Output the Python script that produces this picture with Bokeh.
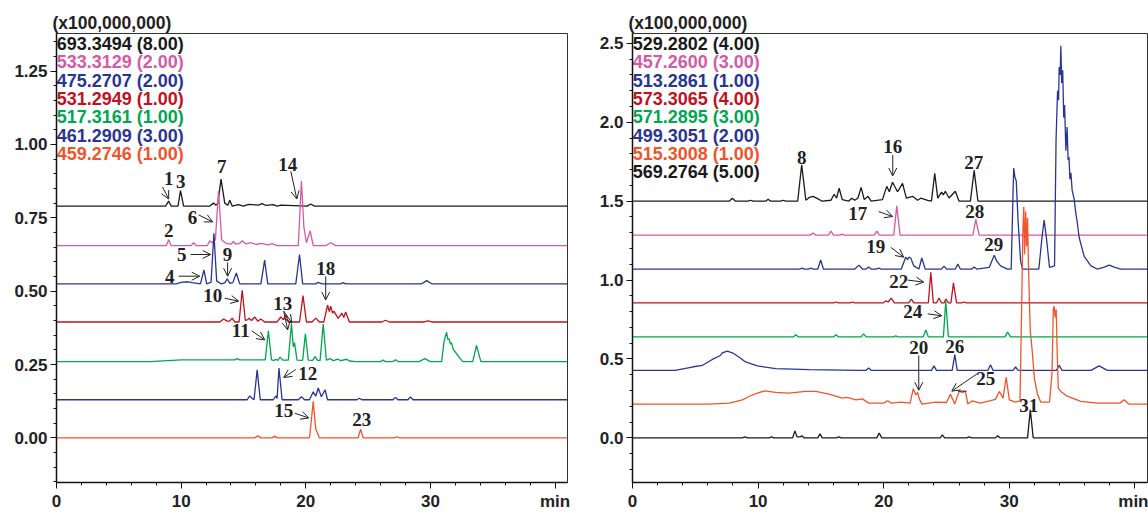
from bokeh.plotting import figure
from bokeh.layouts import row
from bokeh.models import (Arrow, OpenHead, ColumnDataSource,
                          SingleIntervalTicker, PrintfTickFormatter)
from bokeh.core.properties import value
from bokeh.embed import file_html
from bokeh.resources import INLINE

# ---------------- colours ----------------
BLACK = "#1a1a1a"
PINK = "#D45AA8"
BLUE = "#2A3593"
RED = "#C0121E"
GREEN = "#00A650"
ORANGE = "#F2542A"

# ---------------- LEFT PANEL DATA ----------------
left_names = ["693.3494 (8.00)", "533.3129 (2.00)", "475.2707 (2.00)", "531.2949 (1.00)",
              "517.3161 (1.00)", "461.2909 (3.00)", "459.2746 (1.00)"]
left_colors = [BLACK, PINK, BLUE, RED, GREEN, BLUE, ORANGE]
left_offsets = [0.79, 0.655, 0.525, 0.395, 0.26, 0.13, 0.0]

L1_t = [0, 8.75, 9.0, 9.2, 9.75, 9.95, 10.2, 12.3, 12.6, 12.8, 12.95, 13.2, 13.5, 13.75, 13.9, 14.1,
        14.6, 15.0, 15.4, 16.2, 16.5, 16.8, 17.4, 17.7, 18.0, 20.1, 20.4, 20.7, 41]
L1_h = [0, 0, .017, 0, 0, .053, 0, 0, .01, .003, .01, .092, .01, .003, .02, 0,
        .005, 0, .006, .003, .008, .002, .005, 0, .003, 0, .007, 0, 0]

L2_t = [0, 8.8, 9.0, 9.2, 10.8, 11.0, 11.2, 12.1, 12.3, 12.5, 12.75, 13.0, 13.25, 13.6, 14.0, 14.2,
        14.4, 14.7, 14.9, 15.2, 15.6, 16.0, 16.4, 17.0, 17.3, 17.7, 19.4, 19.65, 19.85, 20.05, 20.35,
        20.6, 21.6, 22.0, 22.4, 41]
L2_h = [0, 0, .02, 0, 0, .01, 0, 0, .017, .01, .02, .187, .02, .008, .005, .014,
        .005, .008, .017, .006, .01, .004, .008, .003, .007, 0, 0, .22, .063, .01, .05,
        0, 0, .01, 0, 0]

L3_t = [0, 9.6, 10.0, 10.5, 10.9, 11.55, 11.83, 12.05, 12.4, 12.63, 12.85, 13.2, 13.5, 13.7, 13.9,
        14.15, 14.43, 14.7, 16.4, 16.7, 16.95, 19.2, 19.5, 19.75, 20.8, 21.0, 21.3, 22.8, 23.0, 23.2,
        29.3, 29.7, 30.1, 41]
L3_h = [0, 0, .005, .007, .004, 0, .047, 0, .005, .172, .01, 0, .003, .017, .002,
        .004, .037, 0, 0, .081, 0, 0, .1, 0, 0, .005, 0, 0, .004, 0,
        0, .011, 0, 0]

L4_t = [0, 13.1, 13.4, 13.7, 13.9, 14.1, 14.3, 14.65, 14.9, 15.15, 15.35, 15.45, 15.65, 15.9, 16.15,
        16.4, 16.7, 17.7, 18.0, 18.2, 18.4, 18.6, 19.5, 19.78, 20.05, 20.5, 20.8, 21.1, 21.45, 21.75,
        21.9, 22.0, 22.15, 22.25, 22.6, 22.9, 23.05, 23.2, 23.5, 26.1, 26.4, 26.7, 29.5, 29.8, 30.1, 41]
L4_h = [0, 0, .01, .003, .003, .013, 0, 0, .108, .005, .008, .013, .005, .017, .003,
        .01, 0, 0, .017, .008, .024, 0, 0, .09, 0, 0, .013, 0, 0, .057,
        .035, .054, .03, .037, .012, .03, .015, .034, 0, 0, .006, 0, 0, .004, 0, 0]

L5_t = [0, 7.5, 10, 14.3, 14.5, 14.7, 16.6, 16.75, 17.0, 17.25, 17.45, 17.6, 17.75, 17.95, 18.15,
        18.6, 18.85, 19.0, 19.1, 19.3, 19.75, 19.97, 20.2, 20.55, 20.75, 20.95, 21.15, 21.4, 21.65,
        22.0, 22.2, 22.6, 22.8, 23.3, 23.5, 24.0, 26.0, 26.2, 26.4, 27.0, 27.2, 27.4, 29.1, 29.55,
        30.0, 30.9, 31.1, 31.2, 31.3, 31.4, 31.5, 31.6, 31.7, 31.85, 32.05, 32.3, 32.6, 33.4, 33.7,
        34.05, 41]
L5_h = [0, 0, .006, .006, .01, .006, .006, .006, .105, .006, .004, .008, .004, .015, .005,
        .005, .13, .05, .064, .005, .004, .095, .005, .004, .017, .004, .004, .128, .005,
        .01, .003, .008, .003, .008, .002, 0, 0, .005, 0, 0, .006, 0, 0, .01,
        0, 0, .07, .085, .1, .075, .078, .06, .064, .04, .03, .015, 0, 0, .055,
        0, 0]

L6_t = [0, 15.3, 15.5, 15.7, 15.85, 16.1, 16.35, 17.4, 17.6, 17.7, 17.85, 18.1, 19.4, 19.65, 19.9,
        20.3, 20.6, 20.8, 21.0, 21.25, 21.55, 21.75, 24.1, 24.3, 24.5, 27.0, 27.2, 27.4, 28.2, 28.4,
        28.6, 41]
L6_h = [0, 0, .013, .004, 0, .102, 0, 0, .013, .004, .108, 0, 0, .01, 0,
        0, .027, .012, .04, .01, .034, 0, 0, .005, 0, 0, .008, 0, 0, .01,
        0, 0]

L7_t = [0, 15.9, 16.15, 16.4, 17.3, 17.5, 17.7, 20.3, 20.45, 20.6, 20.8, 21.1, 24.2, 24.4, 24.6,
        27.1, 27.3, 27.5, 41]
L7_h = [0, 0, .007, 0, 0, .006, 0, 0, .06, .125, .03, 0, 0, .03, 0,
        0, .004, 0, 0]

left_t = [L1_t, L2_t, L3_t, L4_t, L5_t, L6_t, L7_t]
left_h = [L1_h, L2_h, L3_h, L4_h, L5_h, L6_h, L7_h]

# peak numbers (left)
left_lab_text = ["1", "3", "7", "14", "6", "2", "5", "9", "4", "10", "13", "11", "12", "15", "18", "23"]
left_lab_x = [9.0, 9.96, 13.25, 18.55, 10.92, 9.0, 10.04, 13.73, 9.08, 12.53, 18.15, 14.78, 20.16, 18.23, 21.6, 24.5]
left_lab_y = [0.885, 0.872, 0.926, 0.932, 0.75, 0.706, 0.625, 0.625, 0.551, 0.486, 0.459, 0.365, 0.22, 0.095, 0.578, 0.064]
left_arr_x0 = [8.51, 18.8, 11.4, 10.76, 13.73, 9.8, 13.49, 18.23, 18.23, 15.66, 19.2, 19.12, 21.6]
left_arr_y0 = [0.855, 0.909, 0.76, 0.625, 0.598, 0.551, 0.476, 0.432, 0.432, 0.365, 0.233, 0.084, 0.551]
left_arr_x1 = [9.0, 19.28, 12.53, 12.37, 13.73, 11.49, 14.62, 18.55, 18.88, 16.71, 18.23, 20.24, 21.6]
left_arr_y1 = [0.814, 0.814, 0.736, 0.625, 0.551, 0.551, 0.466, 0.368, 0.392, 0.334, 0.206, 0.068, 0.47]

# ---------------- RIGHT PANEL DATA ----------------
right_names = ["529.2802 (4.00)", "457.2600 (3.00)", "513.2861 (1.00)", "573.3065 (4.00)",
               "571.2895 (3.00)", "499.3051 (2.00)", "515.3008 (1.00)", "569.2764 (5.00)"]
right_colors = [BLACK, PINK, BLUE, RED, GREEN, BLUE, ORANGE, BLACK]
right_offsets = [1.5, 1.285, 1.07, 0.855, 0.64, 0.428, 0.214, 0.0]

R1_t = [0, 7.7, 7.95, 8.2, 9.2, 9.4, 9.6, 10.6, 10.8, 11.0, 11.8, 12.0, 12.2, 13.15, 13.47, 13.8,
        14.1, 14.37, 14.7, 15.1, 15.8, 16.05, 16.25, 16.45, 16.7, 17.2, 17.45, 17.7, 17.95, 18.2,
        18.45, 18.75, 19.0, 19.9, 20.24, 20.45, 20.7, 21.1, 21.5, 21.8, 22.3, 22.7, 22.95, 23.2,
        23.5, 23.8, 24.06, 24.3, 24.6, 24.75, 24.9, 25.2, 25.7, 26.0, 26.9, 27.2, 27.5, 28.0, 41]
R1_h = [0, 0, .019, 0, 0, .006, 0, 0, .013, 0, 0, .006, 0, 0, .23, .006,
        .025, .031, .018, 0, .006, .044, .02, .082, .01, 0, .019, .006, .02, .088,
        .01, .031, 0, .01, .094, .06, .12, .06, .113, .02, .031, .006, .019, .013,
        .006, 0, .176, .02, .057, .04, .063, .02, .063, 0, 0, .195, 0, 0, 0]

R2_t = [0, 14.15, 14.37, 14.6, 15.6, 15.8, 16.0, 16.5, 16.7, 16.9, 19.25, 19.45, 19.65, 20.8, 21.04,
        21.3, 27.1, 27.33, 27.6, 41]
R2_h = [0, 0, .013, 0, 0, .025, 0, 0, .006, 0, 0, .025, 0, 0, .185,
        0, 0, .1, 0, 0]

R3_t = [0, 13.3, 13.5, 13.7, 14.0, 14.2, 14.4, 14.75, 14.98, 15.2, 17.7, 18.03, 18.3, 18.6, 18.8,
        19.0, 19.4, 19.6, 19.8, 21.4, 21.75, 21.9, 22.0, 22.15, 22.4, 22.8, 23.03, 23.3, 24.6, 24.8,
        25.0, 25.7, 25.9, 26.1, 27.0, 27.2, 27.4, 28.4, 28.6, 28.8, 29.0, 29.3, 29.85, 30.15, 30.3,
        30.35, 30.45, 30.55, 30.7, 30.9, 31.05, 32.35, 32.6, 32.77, 32.95, 33.2, 33.6, 33.72, 33.84,
        33.92, 33.97, 34.05, 34.1, 34.17, 34.25, 34.33, 34.4, 34.5, 34.6, 34.68, 34.75, 34.82, 34.9,
        35.0, 35.17, 35.3, 35.4, 35.56, 35.96, 36.5, 37.0, 37.5, 37.95, 38.4, 38.9, 41]
R3_h = [0, 0, .006, 0, 0, .006, 0, 0, .057, 0, 0, .025, 0, 0, .013,
        0, 0, .006, 0, 0, .075, .06, .075, .07, .02, 0, .07, 0, 0, .019,
        0, 0, .031, 0, 0, .013, 0, .01, .05, .088, .05, .02, 0, 0, .5,
        .64, .58, .56, .3, .05, 0, 0, .2, .31, .2, .01, .02, .82, 1.13,
        1.07, 1.28, 1.23, 1.415, 1.18, 1.26, .96, 1.04, .75, .9, .69, .71, .57, .61,
        .5, .44, .35, .3, .2, .08, .02, 0, .01, .025, .01, 0, 0]

R4_t = [0, 16.0, 16.2, 16.4, 17.3, 17.5, 17.7, 19.95, 20.16, 20.35, 20.6, 20.85, 22.0, 22.2, 22.4,
        23.55, 23.75, 23.95, 24.2, 24.4, 24.6, 24.8, 24.95, 25.15, 25.35, 25.55, 25.8, 26.2, 26.4,
        26.6, 41]
R4_h = [0, 0, .006, 0, 0, .006, 0, 0, .013, .006, .031, 0, 0, .025, 0,
        0, .195, 0, 0, .031, 0, 0, .025, 0, 0, .127, 0, 0, .006,
        0, 0]

R5_t = [0, 12.8, 13.0, 13.2, 16.0, 16.2, 16.4, 18.2, 18.4, 18.6, 20.8, 20.96, 21.1, 23.15, 23.35,
        23.55, 24.75, 24.94, 25.15, 29.65, 29.86, 30.1, 41]
R5_h = [0, 0, .013, 0, 0, .013, 0, 0, .019, 0, 0, .006, 0, 0, .044,
        0, 0, .225, 0, 0, .03, 0, 0]

R6_t = [0, 3.4, 4.75, 5.55, 6.35, 7.0, 7.15, 7.55, 7.95, 8.47, 9.0, 9.94, 11.4, 14.05, 18.0, 18.6,
        18.8, 19.0, 23.8, 24.0, 24.2, 25.45, 25.66, 25.85, 28.3, 28.5, 28.7, 30.3, 30.5, 30.7, 33.75,
        33.97, 34.2, 36.5, 37.15, 37.8, 41]
R6_h = [0, 0, .021, .031, .069, .094, .111, .122, .111, .084, .053, .028, .011, .004, 0, 0,
        .015, 0, 0, .028, 0, 0, .1, 0, 0, .036, 0, 0, .021, 0, 0,
        .031, 0, 0, .028, 0, 0]

R7_t = [0, 6.1, 7.7, 8.75, 9.27, 9.94, 10.5, 11.4, 12.45, 13.8, 14.6, 15.65, 16.7, 17.1, 17.8, 18.3,
        18.8, 20.0, 20.3, 20.6, 21.35, 22.1, 22.35, 22.55, 22.7, 22.85, 23.05, 24.15, 25.0, 25.3,
        25.5, 25.65, 26.0, 26.27, 26.5, 26.7, 27.05, 27.7, 28.9, 29.2, 29.5, 29.75, 30.0, 30.5,
        30.85, 31.0, 31.08, 31.15, 31.22, 31.3, 31.38, 31.45, 31.52, 31.6, 31.67, 31.75, 31.85,
        32.0, 32.25, 32.5, 33.2, 33.4, 33.5, 33.57, 33.65, 33.73, 33.82, 33.9, 34.1, 34.6, 35.7,
        37.0, 38.8, 39.15, 39.5, 41]
R7_h = [0, 0, .006, .027, .048, .069, .084, .074, .069, .08, .08, .063, .038, .042, .027, .033,
        .006, .006, .021, .006, .013, .006, .097, .059, .074, .03, 0, .013, .01, .063,
        .03, 0, .08, .074, .08, 0, .021, .006, .03, .08, .038, .17, .027, .013,
        .02, .7, 1.1, 1.25, .95, 1.22, 1.0, 1.18, .9, .65, .46, .4, .31,
        .16, .06, .013, .013, .2, .6, .62, .55, .6, .3, .1, .08, .05, .017,
        .006, .006, .027, 0, 0]

R8_t = [0, 8.75, 8.95, 9.15, 10.9, 11.07, 11.25, 12.75, 12.93, 13.1, 13.35, 13.5, 13.65, 14.75,
        14.93, 15.1, 16.25, 16.43, 16.6, 19.45, 19.63, 19.85, 24.5, 24.67, 24.85, 26.6, 26.8, 27.0,
        28.9, 29.06, 29.25, 31.45, 31.67, 31.9, 41]
R8_h = [0, 0, .006, 0, 0, .006, 0, 0, .044, .006, .006, .013, 0, 0,
        .025, 0, 0, .006, 0, 0, .031, 0, 0, .019, 0, 0, .006, 0,
        0, .013, 0, 0, .178, 0, 0]

right_t = [R1_t, R2_t, R3_t, R4_t, R5_t, R6_t, R7_t, R8_t]
right_h = [R1_h, R2_h, R3_h, R4_h, R5_h, R6_h, R7_h, R8_h]

right_lab_text = ["8", "16", "27", "17", "28", "19", "29", "22", "24", "20", "26", "25", "31"]
right_lab_x = [13.47, 20.72, 27.17, 17.93, 27.25, 19.36, 28.76, 21.2, 22.31, 22.79, 25.66, 28.13, 31.55]
right_lab_y = [1.78, 1.849, 1.748, 1.421, 1.434, 1.214, 1.226, 0.994, 0.799, 0.572, 0.579, 0.377, 0.208]
right_arr_x0 = [20.72, 19.6, 20.56, 21.91, 23.5, 22.79, 27.49]
right_arr_y0 = [1.792, 1.434, 1.208, 1.0, 0.786, 0.522, 0.409]
right_arr_x1 = [20.72, 20.72, 21.59, 23.19, 24.62, 22.79, 25.42]
right_arr_y1 = [1.66, 1.403, 1.145, 0.987, 0.774, 0.302, 0.296]
right_seg = ([25.9], [0.296], [26.6], [0.296])


def make_panel(names, colors, offsets, ts, hs, ymin, ymax, ytick, yfmt, min_left, min_right, width,
               lab_text, lab_x, lab_y, ax0, ay0, ax1, ay1):
    p = figure(width=width, height=513, x_range=(0, 41), y_range=(ymin, ymax),
               output_backend="svg", toolbar_location=None,
               min_border_left=min_left, min_border_right=min_right,
               min_border_top=33, min_border_bottom=27,
               title="(x100,000,000)", title_location="above")
    p.title.align = "left"
    p.title.text_font = "Liberation Sans"
    p.title.text_font_style = "bold"
    p.title.text_font_size = "17.5px"
    p.title.text_color = "#222222"
    p.title.standoff = 1
    p.title.offset = -4
    p.grid.visible = False
    p.outline_line_color = "#333333"
    p.outline_line_width = 1
    p.background_fill_color = "white"
    p.border_fill_color = "white"

    p.xaxis.ticker = SingleIntervalTicker(interval=10, num_minor_ticks=5)
    p.yaxis.ticker = SingleIntervalTicker(interval=ytick, num_minor_ticks=5)
    p.yaxis.formatter = PrintfTickFormatter(format=yfmt)
    p.xaxis.major_label_overrides = {40: "min"}
    for ax in (p.xaxis, p.yaxis):
        ax.axis_line_width = 1.5
        ax.axis_line_color = "#111111"
        ax.major_tick_line_color = "#111111"
        ax.minor_tick_line_color = "#111111"
        ax.major_tick_out = 6
        ax.major_tick_in = 0
        ax.minor_tick_out = 3
        ax.minor_tick_in = 0
        ax.major_label_text_font = "Liberation Sans"
        ax.major_label_text_font_style = "bold"
        ax.major_label_text_font_size = "17px"
        ax.major_label_text_color = "#222222"
        ax.major_label_standoff = 3

    for t, h, off, c in zip(ts, hs, offsets, colors):
        p.line(x=t, y=[off + v for v in h], line_color=c, line_width=1.3)

    # legend block (top-left inside frame)
    dpp = (ymax - ymin) / 453.0
    ys = [ymax - (10.5 + 18.5 * i) * dpp for i in range(len(names))]
    p.text(x=[0.02] * len(names), y=ys, text=names, text_color=colors,
           text_font=value("Liberation Sans"), text_font_style="bold",
           text_font_size="18px", text_align="left", text_baseline="middle")

    # peak numbers
    p.text(x=lab_x, y=lab_y, text=lab_text, text_color="#222222",
           text_font=value("Liberation Serif"), text_font_style="bold",
           text_font_size="19px", text_align="center", text_baseline="middle")

    src = ColumnDataSource(dict(x0=ax0, y0=ay0, x1=ax1, y1=ay1))
    p.add_layout(Arrow(end=OpenHead(size=8, line_width=1, line_color="#222222"),
                       x_start="x0", y_start="y0", x_end="x1", y_end="y1",
                       line_width=1, line_color="#222222", source=src))
    return p


p1 = make_panel(left_names, left_colors, left_offsets, left_t, left_h, -0.152, 1.378, 0.25, "%.2f",
                56, 8, 575, left_lab_text, left_lab_x, left_lab_y,
                left_arr_x0, left_arr_y0, left_arr_x1, left_arr_y1)
p2 = make_panel(right_names, right_colors, right_offsets, right_t, right_h, -0.283, 2.563, 0.5, "%.1f",
                57, 1, 573, right_lab_text, right_lab_x, right_lab_y,
                right_arr_x0, right_arr_y0, right_arr_x1, right_arr_y1)
p2.segment(x0=right_seg[0], y0=right_seg[1], x1=right_seg[2], y1=right_seg[3],
           line_color="#222222", line_width=1)

layout = row(p1, p2, spacing=0)
open("out.html", "w").write(file_html(layout, INLINE))
